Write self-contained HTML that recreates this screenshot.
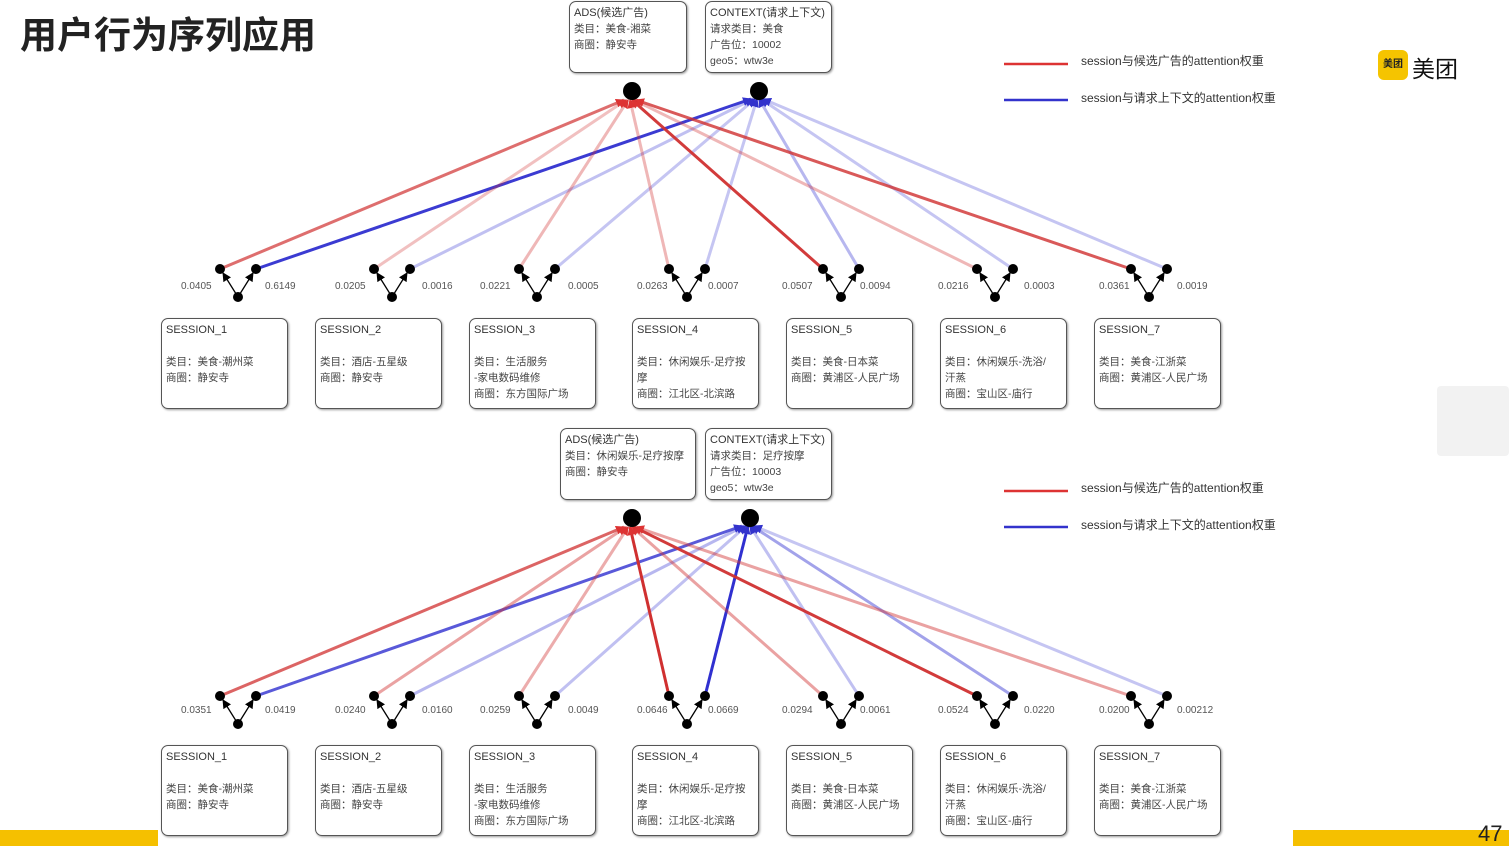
<!DOCTYPE html>
<html><head><meta charset="utf-8"><style>
body{margin:0;width:1509px;height:846px;overflow:hidden;background:#fff;position:relative;font-family:"Liberation Sans","Noto Sans CJK SC",sans-serif;}
.t{position:absolute;white-space:nowrap;color:#333;}
.box{position:absolute;border:1.5px solid #555;border-radius:7px;background:#fff;box-sizing:border-box;font-size:10.5px;line-height:16px;padding:3px 4px;color:#444;box-shadow:1px 1px 2px #999;}
.box b{font-weight:normal;color:#333;font-size:11px}
.lab{position:absolute;font-size:10px;color:#555;}
svg{position:absolute;left:0;top:0}
</style></head><body>
<svg id="s" width="1509" height="846"></svg>
<div class="t" style="left:20px;top:5px;font-size:37px;font-weight:bold;color:#222;">用户行为序列应用</div>
<div style="position:absolute;left:1378px;top:50px;width:30px;height:30px;background:#f5c400;border-radius:6px;font-size:10px;line-height:30px;text-align:center;font-weight:bold;color:#222">美团</div>
<div class="t" style="left:1412px;top:50px;font-size:23px;color:#111;">美团</div>
<div style="position:absolute;left:1437px;top:386px;width:72px;height:70px;background:#f2f2f2;border-radius:4px"></div>
<div style="position:absolute;left:0;top:830px;width:158px;height:16px;background:#f5c000"></div>
<div style="position:absolute;left:1293px;top:830px;width:216px;height:16px;background:#f5c000"></div>
<div class="t" style="left:1478px;top:821px;font-size:22px;color:#222">47</div>
<script>
const S=document.getElementById('s');
let svg='<defs>';
function mk(id,col){return `<marker id="${id}" markerWidth="9" markerHeight="9" refX="8" refY="4.5" orient="auto" markerUnits="userSpaceOnUse"><path d="M0,0L9,4.5L0,9z" fill="${col}"/></marker>`;}
svg+=mk('r','#d33')+mk('b','#33c')+mk('k','#000')+'</defs>';
const gx=[220,374,519,669,823,977,1131];
function diagram(ty,dy,ax,cx,ro,bo){
  for(let i=0;i<7;i++){
    const l=gx[i],r=l+36;
    const a=Math.max(ro[i],0.3),b=Math.max(bo[i],0.28);
    svg+=`<line x1="${l}" y1="${dy}" x2="${ax-8+i*2}" y2="${ty+9}" stroke="#d03030" stroke-opacity="${a}" stroke-width="3" marker-end="url(#r)"/>`;
    svg+=`<line x1="${r}" y1="${dy}" x2="${cx-8+i*2}" y2="${ty+8}" stroke="#3030d0" stroke-opacity="${b}" stroke-width="3" marker-end="url(#b)"/>`;
  }
  for(let i=0;i<7;i++){
    const l=gx[i],r=l+36,m=l+18,b=dy+28;
    svg+=`<line x1="${m}" y1="${b}" x2="${l+3}" y2="${dy+4}" stroke="#000" stroke-width="1.3" marker-end="url(#k)"/>`;
    svg+=`<line x1="${m}" y1="${b}" x2="${r-3}" y2="${dy+4}" stroke="#000" stroke-width="1.3" marker-end="url(#k)"/>`;
    svg+=`<circle cx="${l}" cy="${dy}" r="5"/><circle cx="${r}" cy="${dy}" r="5"/><circle cx="${m}" cy="${b}" r="5"/>`;
  }
  svg+=`<circle cx="${ax}" cy="${ty}" r="9"/><circle cx="${cx}" cy="${ty}" r="9"/>`;
}
diagram(91,269,632,759,[.7,.3,.35,.35,.95,.35,.8],[.95,.3,.28,.28,.35,.28,.28]);
diagram(518,696,632,750,[.75,.45,.4,1,.45,.95,.45],[.8,.35,.3,1,.3,.45,.28]);
[[64,100],[491,527]].forEach(([a,b])=>{svg+=`<line x1="1004" y1="${a}" x2="1068" y2="${a}" stroke="#d33" stroke-width="2.5"/><line x1="1004" y1="${b}" x2="1068" y2="${b}" stroke="#33c" stroke-width="2.5"/>`;});
S.innerHTML=svg;
</script>
<div class="t" style="left:1081px;top:52px;font-size:12px">session与候选广告的attention权重</div>
<div class="t" style="left:1081px;top:89px;font-size:12px">session与请求上下文的attention权重</div>
<div class="t" style="left:1081px;top:479px;font-size:12px">session与候选广告的attention权重</div>
<div class="t" style="left:1081px;top:516px;font-size:12px">session与请求上下文的attention权重</div>

<div class="box" style="left:569px;top:1px;width:118px;height:72px"><b>ADS(候选广告)</b><br>类目：美食-湘菜<br>商圈：静安寺</div>
<div class="box" style="left:705px;top:1px;width:127px;height:72px"><b>CONTEXT(请求上下文)</b><br>请求类目：美食<br>广告位：10002<br>geo5：wtw3e</div>
<div class="box" style="left:560px;top:428px;width:136px;height:72px"><b>ADS(候选广告)</b><br>类目：休闲娱乐-足疗按摩<br>商圈：静安寺</div>
<div class="box" style="left:705px;top:428px;width:127px;height:72px"><b>CONTEXT(请求上下文)</b><br>请求类目：足疗按摩<br>广告位：10003<br>geo5：wtw3e</div>

<div class="lab" style="left:181px;top:281px">0.0405</div><div class="lab" style="left:265px;top:281px">0.6149</div>
<div class="lab" style="left:335px;top:281px">0.0205</div><div class="lab" style="left:422px;top:281px">0.0016</div>
<div class="lab" style="left:480px;top:281px">0.0221</div><div class="lab" style="left:568px;top:281px">0.0005</div>
<div class="lab" style="left:637px;top:281px">0.0263</div><div class="lab" style="left:708px;top:281px">0.0007</div>
<div class="lab" style="left:782px;top:281px">0.0507</div><div class="lab" style="left:860px;top:281px">0.0094</div>
<div class="lab" style="left:938px;top:281px">0.0216</div><div class="lab" style="left:1024px;top:281px">0.0003</div>
<div class="lab" style="left:1099px;top:281px">0.0361</div><div class="lab" style="left:1177px;top:281px">0.0019</div>

<div class="lab" style="left:181px;top:705px">0.0351</div><div class="lab" style="left:265px;top:705px">0.0419</div>
<div class="lab" style="left:335px;top:705px">0.0240</div><div class="lab" style="left:422px;top:705px">0.0160</div>
<div class="lab" style="left:480px;top:705px">0.0259</div><div class="lab" style="left:568px;top:705px">0.0049</div>
<div class="lab" style="left:637px;top:705px">0.0646</div><div class="lab" style="left:708px;top:705px">0.0669</div>
<div class="lab" style="left:782px;top:705px">0.0294</div><div class="lab" style="left:860px;top:705px">0.0061</div>
<div class="lab" style="left:938px;top:705px">0.0524</div><div class="lab" style="left:1024px;top:705px">0.0220</div>
<div class="lab" style="left:1099px;top:705px">0.0200</div><div class="lab" style="left:1177px;top:705px">0.00212</div>

<div class="box" style="left:161px;top:318px;width:127px;height:91px"><b>SESSION_1</b><br><br>类目：美食-潮州菜<br>商圈：静安寺</div>
<div class="box" style="left:315px;top:318px;width:127px;height:91px"><b>SESSION_2</b><br><br>类目：酒店-五星级<br>商圈：静安寺</div>
<div class="box" style="left:469px;top:318px;width:127px;height:91px"><b>SESSION_3</b><br><br>类目：生活服务<br>-家电数码维修<br>商圈：东方国际广场</div>
<div class="box" style="left:632px;top:318px;width:127px;height:91px"><b>SESSION_4</b><br><br>类目：休闲娱乐-足疗按<br>摩<br>商圈：江北区-北滨路</div>
<div class="box" style="left:786px;top:318px;width:127px;height:91px"><b>SESSION_5</b><br><br>类目：美食-日本菜<br>商圈：黄浦区-人民广场</div>
<div class="box" style="left:940px;top:318px;width:127px;height:91px"><b>SESSION_6</b><br><br>类目：休闲娱乐-洗浴/<br>汗蒸<br>商圈：宝山区-庙行</div>
<div class="box" style="left:1094px;top:318px;width:127px;height:91px"><b>SESSION_7</b><br><br>类目：美食-江浙菜<br>商圈：黄浦区-人民广场</div>

<div class="box" style="left:161px;top:745px;width:127px;height:91px"><b>SESSION_1</b><br><br>类目：美食-潮州菜<br>商圈：静安寺</div>
<div class="box" style="left:315px;top:745px;width:127px;height:91px"><b>SESSION_2</b><br><br>类目：酒店-五星级<br>商圈：静安寺</div>
<div class="box" style="left:469px;top:745px;width:127px;height:91px"><b>SESSION_3</b><br><br>类目：生活服务<br>-家电数码维修<br>商圈：东方国际广场</div>
<div class="box" style="left:632px;top:745px;width:127px;height:91px"><b>SESSION_4</b><br><br>类目：休闲娱乐-足疗按<br>摩<br>商圈：江北区-北滨路</div>
<div class="box" style="left:786px;top:745px;width:127px;height:91px"><b>SESSION_5</b><br><br>类目：美食-日本菜<br>商圈：黄浦区-人民广场</div>
<div class="box" style="left:940px;top:745px;width:127px;height:91px"><b>SESSION_6</b><br><br>类目：休闲娱乐-洗浴/<br>汗蒸<br>商圈：宝山区-庙行</div>
<div class="box" style="left:1094px;top:745px;width:127px;height:91px"><b>SESSION_7</b><br><br>类目：美食-江浙菜<br>商圈：黄浦区-人民广场</div>
</body></html>
